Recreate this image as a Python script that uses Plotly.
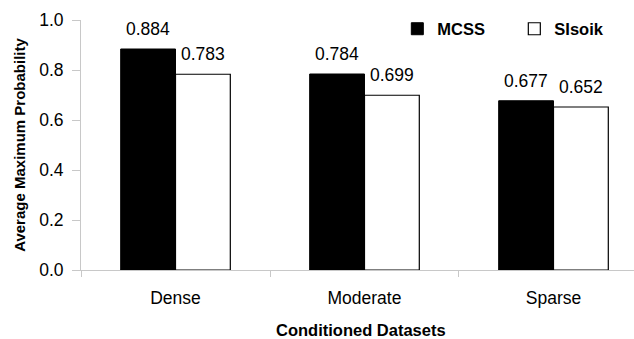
import plotly.graph_objects as go

categories = ["Dense", "Moderate", "Sparse"]
mcss = [0.884, 0.784, 0.677]
sisoik = [0.783, 0.699, 0.652]
series_names = ["MCSS", "SIsoik"]
y_ticks = [0.0, 0.2, 0.4, 0.6, 0.8, 1.0]

FONT = "Liberation Sans, Arial, sans-serif"
BARGAP = 0.42
half = (1 - BARGAP) / 4

fig = go.Figure()
fig.add_trace(go.Bar(x=categories, y=mcss, name=series_names[0],
                     marker=dict(color="black", line=dict(color="black", width=1))))
fig.add_trace(go.Bar(x=categories, y=sisoik, name=series_names[1],
                     marker=dict(color="white", line=dict(color="black", width=1.2))))

annotations = []
for i, (a, b) in enumerate(zip(mcss, sisoik)):
    annotations.append(dict(x=i - half, y=a, xref="x", yref="y", text=f"{a:.3f}",
                            showarrow=False, yanchor="middle", yshift=20,
                            font=dict(family=FONT, size=17.5, color="black")))
    annotations.append(dict(x=i + half, y=b, xref="x", yref="y", text=f"{b:.3f}",
                            showarrow=False, yanchor="middle", yshift=20,
                            font=dict(family=FONT, size=17.5, color="black")))
annotations.append(dict(x=(361 - 81) / (634 - 81), y=-(330 - 270) / 250, xref="paper",
                        yref="paper", yanchor="middle",
                        text="<b>Conditioned Datasets</b>", showarrow=False,
                        font=dict(family=FONT, size=16.5, color="black")))

fig.update_layout(
    width=634, height=339,
    margin=dict(l=81, r=0, t=20, b=69),
    paper_bgcolor="white", plot_bgcolor="white",
    barmode="group", bargap=BARGAP, bargroupgap=0,
    font=dict(family=FONT, size=17.5, color="black"),
    showlegend=True,
    legend=dict(orientation="h", x=0.572, y=0.964, xanchor="left", yanchor="middle",
                font=dict(family=FONT, size=16.5, color="black", weight="bold"),
                itemwidth=30, entrywidth=72, entrywidthmode="pixels",
                bgcolor="rgba(0,0,0,0)"),
    annotations=annotations,
)
fig.update_xaxes(type="category", range=[-0.5, 2.426], showline=True, linecolor="#c8c8c8",
                 linewidth=1, ticks="outside", tickson="boundaries", ticklen=6,
                 tickcolor="#c8c8c8", showgrid=False, tickfont=dict(size=17.5),
                 ticklabelstandoff=12)
fig.update_yaxes(range=[0, 1], tickvals=y_ticks, ticktext=[f"{v:.1f}" for v in y_ticks],
                 showline=True, linecolor="#c8c8c8", linewidth=1, ticks="outside",
                 ticklen=8, tickcolor="#c8c8c8", showgrid=False, zeroline=False,
                 tickfont=dict(size=17.5), ticklabelstandoff=5,
                 title=dict(text="<b>Average Maximum Probability</b>",
                            font=dict(family=FONT, size=15), standoff=9))

fig.write_html("out.html")
